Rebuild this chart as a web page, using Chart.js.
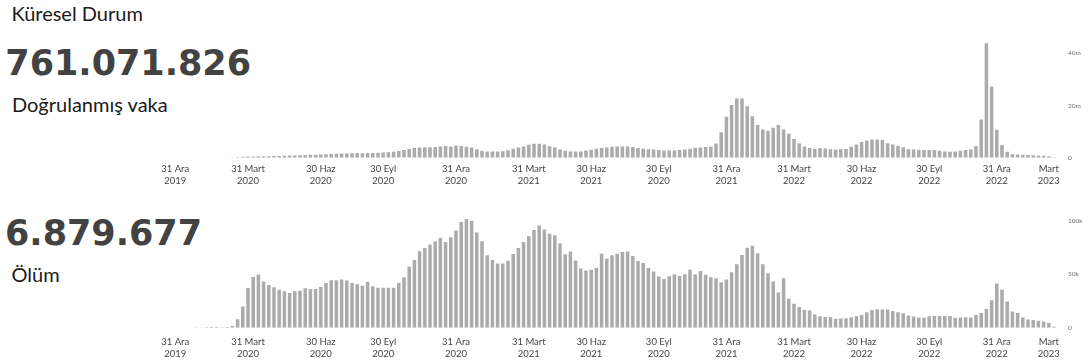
<!DOCTYPE html>
<html lang="tr">
<head>
<meta charset="utf-8">
<script src="https://cdn.jsdelivr.net/npm/chart.js@4.4.1/dist/chart.umd.min.js"></script>
<style>
  html, body { margin:0; padding:0; background:#fff; }
  body { width:1091px; height:364px; overflow:hidden; position:relative; }
  .lbl { position:absolute; font-family:Lato, 'Open Sans', sans-serif; font-size:20px; line-height:1.2; color:#1a1a1a; white-space:nowrap; }
  .big { position:absolute; font-family:'DejaVu Sans', sans-serif; font-weight:bold; font-size:35px; line-height:1.164; color:#424242; white-space:nowrap; }
  canvas { position:absolute; left:0; }
</style>
</head>
<body>
<div class="lbl" style="left:11.4px; top:1px;">Küresel Durum</div>
<div class="big" style="left:5.3px; top:42.5px;">761.071.826</div>
<div class="lbl" style="left:12px; top:92px;">Doğrulanmış vaka</div>
<div class="big" style="left:5px; top:212.5px;">6.879.677</div>
<div class="lbl" style="left:11.5px; top:262px;">Ölüm</div>
<canvas id="cases" width="1091" height="190" style="top:0px;"></canvas>
<canvas id="deaths" width="1091" height="174" style="top:190px;"></canvas>
<script>
// ---- DATA ----
// weekly categories: two empty lead weeks (22 & 29 Dec 2019), then data weeks from 5 Jan 2020
const firstCategoryWeek = '2019-12-22';
const categoryCount = 170;
const leadEmptyWeeks = 2;

// x-axis tick labels and the category week at which each one sits
const tickWeeks = ['2019-12-22','2020-03-29','2020-07-05','2020-09-27','2021-01-03','2021-04-11',
  '2021-07-04','2021-10-03','2022-01-02','2022-04-03','2022-07-03','2022-10-02','2023-01-01','2023-03-12'];
const tickLabels = [['31 Ara','2019'],['31 Mart','2020'],['30 Haz','2020'],['30 Eyl','2020'],['31 Ara','2020'],
  ['31 Mart','2021'],['30 Haz','2021'],['30 Eyl','2020'],['31 Ara','2021'],['31 Mart','2022'],['30 Haz','2022'],
  ['30 Eyl','2022'],['31 Ara','2022'],['Mart','2023']];

// weekly confirmed cases (millions)
const cases = [
  0.0,0.0,0.003,0.015,0.02,0.015,0.01,0.02,0.05,0.12,
  0.25,0.38,0.45,0.51,0.55,0.6,0.62,0.65,0.72,0.78,
  0.85,0.92,1.0,1.05,1.15,1.2,1.3,1.35,1.45,1.55,
  1.6,1.65,1.75,1.8,1.75,1.8,1.85,1.9,2.0,2.1,
  2.3,2.6,3.0,3.4,3.8,3.95,4.0,4.0,4.1,4.3,
  4.5,4.3,4.7,4.5,4.2,3.95,3.3,2.7,2.4,2.4,
  2.4,2.55,2.9,3.45,3.95,4.35,4.95,5.35,5.35,5.1,
  4.45,3.95,3.2,2.7,2.4,2.4,2.4,2.8,3.05,3.45,
  3.7,3.95,4.2,4.35,4.35,4.35,4.1,3.7,3.45,3.3,
  3.2,2.95,2.8,2.8,2.8,2.95,3.2,3.45,3.8,3.95,
  4.1,4.2,5.5,9.8,15.7,20.2,22.7,22.7,19.7,15.9,
  12.5,10.8,10.3,11.5,12.5,10.8,9.2,7.2,5.5,4.3,
  3.7,3.5,3.7,3.6,3.3,3.2,3.3,3.4,4.2,5.1,
  6.0,6.6,7.0,7.0,6.8,5.6,5.1,4.6,4.0,3.3,
  3.2,3.1,3.0,3.0,3.0,2.7,2.45,2.35,2.4,2.7,
  3.0,3.15,4.4,14.6,43.8,27.3,10.7,4.9,2.3,1.4,
  1.3,1.2,1.1,1.0,0.9,0.8,0.6,0.2
];

// weekly deaths (thousands)
const deaths = [
  0,0.01,0.1,0.3,0.5,0.7,0.7,0.5,0.6,1.6,
  7.9,19.8,37.1,47.5,49.7,43.1,39.9,37.7,35.5,34.0,
  32.4,34.0,34.6,36.8,36.2,36.2,38.1,41.8,44.3,44.3,
  45.0,44.0,41.8,40.6,39.3,42.8,38.7,37.4,37.4,37.4,
  37.4,41.8,47.2,56.9,63.2,71.4,74.5,77.7,80.5,84.0,
  80.2,84.6,90.9,98.7,101.6,100.0,89.0,80.8,67.6,63.2,
  60.1,60.1,62.6,68.9,74.5,80.2,85.5,91.2,95.6,91.8,
  87.7,86.5,78.6,68.6,71.1,62.9,55.3,53.5,54.1,56.0,
  69.2,64.5,67.6,69.2,70.8,71.1,67.0,62.3,60.4,55.7,
  52.5,47.8,45.6,48.1,50.0,48.4,50.0,54.1,49.7,53.1,
  49.4,47.2,46.2,42.5,45.0,51.9,59.4,67.9,74.8,76.7,
  69.5,59.4,51.0,43.2,33.0,46.2,27.0,22.5,19.3,16.6,
  16.1,12.4,10.6,10.0,9.7,8.4,8.7,8.9,9.7,10.8,
  11.9,14.4,16.5,17.2,17.1,17.1,15.5,14.4,13.4,11.4,
  10.5,9.6,9.4,10.7,11.0,11.0,11.1,10.9,9.4,9.5,
  9.7,9.5,11.9,13.8,17.5,25.7,41.3,35.4,24.4,15.2,
  13.8,9.5,7.7,7.3,6.6,5.7,4.4,0.9
];

// y-axis ticks
const caseTicks = [0, 20, 40];
const caseTickLabels = ['0', '20m', '40m'];
const deathTicks = [0, 50, 100];
const deathTickLabels = ['0', '50k', '100k'];

// ---- BUILD ----
const categories = [];
(function () {
  const d0 = new Date(firstCategoryWeek + 'T00:00:00Z').getTime();
  for (let k = 0; k < categoryCount; k++) {
    categories.push(new Date(d0 + k * 7 * 864e5).toISOString().slice(0, 10));
  }
})();
const tickIndex = tickWeeks.map(w => categories.indexOf(w));
const pad = new Array(leadEmptyWeeks).fill(null);

const BAR = '#ababab';

function makeChart(id, values, yMax, yTicks, yLabels, cfg) {
  return new Chart(document.getElementById(id), {
    type: 'bar',
    data: {
      labels: categories,
      datasets: [{
        data: pad.concat(values),
        backgroundColor: BAR,
        borderWidth: 0,
        barPercentage: 0.68,
        categoryPercentage: 1.0
      }]
    },
    options: {
      responsive: false,
      animation: false,
      events: [],
      layout: { padding: { left: 172.6, top: cfg.top, right: 0, bottom: 0 } },
      plugins: { legend: { display: false }, tooltip: { enabled: false }, title: { display: false } },
      scales: {
        x: {
          type: 'category',
          offset: true,
          grid: { display: false, drawTicks: false },
          border: { display: false },
          afterBuildTicks: s => { s.ticks = tickIndex.map(v => ({ value: v })); },
          afterFit: s => { s.height = cfg.xh; },
          ticks: {
            autoSkip: false, maxRotation: 0, minRotation: 0,
            padding: cfg.xpad,
            color: '#444',
            font: { family: 'Lato', size: 9.5, lineHeight: '12px' },
            callback: (v) => { const k = tickIndex.indexOf(v); return k >= 0 ? tickLabels[k] : ''; }
          }
        },
        y: {
          position: 'right',
          min: 0, max: yMax,
          grid: { display: false, drawTicks: false },
          border: { display: false },
          afterBuildTicks: s => { s.ticks = yTicks.map(v => ({ value: v })); },
          afterFit: s => { s.width = 34.4; },
          ticks: {
            padding: 11.4,
            color: '#6f6f6f',
            font: { family: 'Lato', size: 6.5 },
            callback: (v) => { const k = yTicks.indexOf(v); return k >= 0 ? yLabels[k] : ''; }
          }
        }
      }
    }
  });
}

makeChart('cases', cases, 45, caseTicks, caseTickLabels, { top: 40.1, xh: 32.2, xpad: 5.2 });
makeChart('deaths', deaths, 105, deathTicks, deathTickLabels, { top: 25.35, xh: 36.3, xpad: 8 });
</script>
</body>
</html>
